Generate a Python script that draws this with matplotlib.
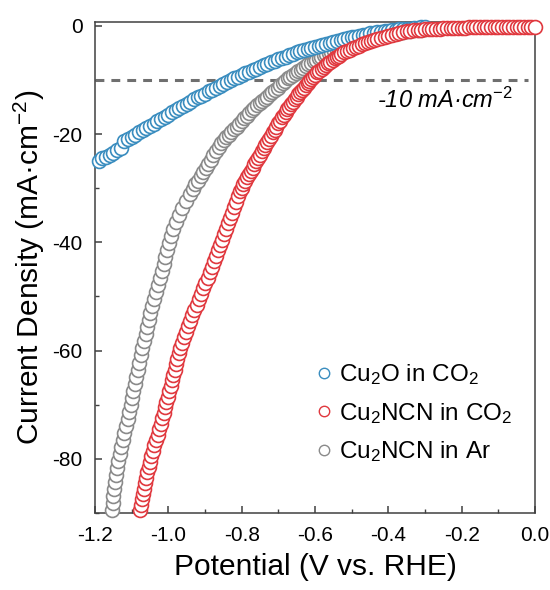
import matplotlib; matplotlib.use("agg")
import matplotlib.pyplot as plt
from matplotlib.ticker import MultipleLocator
from matplotlib.lines import Line2D

plt.rcParams['font.family'] = ['Liberation Sans', 'DejaVu Sans']
plt.rcParams['mathtext.fontset'] = 'custom'
plt.rcParams['mathtext.rm'] = 'Liberation Sans'
plt.rcParams['mathtext.it'] = 'Liberation Sans:italic'

# Cu2O in CO2
cu2o_x = [-1.19, -1.18, -1.17, -1.16, -1.15, -1.14, -1.13, -1.12, -1.11, -1.10,
          -1.09, -1.08, -1.07, -1.06, -1.05, -1.04, -1.03, -1.02, -1.01, -1.00,
          -0.99, -0.98, -0.97, -0.96, -0.95, -0.94, -0.93, -0.92, -0.91, -0.90,
          -0.89, -0.88, -0.87, -0.86, -0.85, -0.84, -0.83, -0.82, -0.81, -0.80,
          -0.79, -0.78, -0.77, -0.76, -0.75, -0.74, -0.73, -0.72, -0.71, -0.70,
          -0.69, -0.68, -0.67, -0.66, -0.65, -0.64, -0.63, -0.62, -0.61, -0.60,
          -0.59, -0.58, -0.57, -0.56, -0.55, -0.54, -0.53, -0.52, -0.51, -0.50,
          -0.49, -0.48, -0.47, -0.46, -0.45, -0.44, -0.43, -0.42, -0.41, -0.40,
          -0.39, -0.38, -0.37, -0.36, -0.35, -0.34, -0.33, -0.32, -0.31, -0.30]
cu2o_j = [-24.9, -24.5, -24.2, -23.8, -23.4, -23.0, -22.5, -21.3, -20.9, -20.5,
          -20.1, -19.7, -19.3, -18.9, -18.5, -18.1, -17.6, -17.2, -16.8, -16.4,
          -16.0, -15.6, -15.2, -14.8, -14.4, -14.0, -13.6, -13.2, -12.9, -12.5,
          -12.1, -11.8, -11.4, -11.1, -10.7, -10.4, -10.0, -9.7, -9.4, -9.1,
          -8.8, -8.5, -8.2, -7.9, -7.6, -7.3, -7.0, -6.7, -6.4, -6.2,
          -5.9, -5.7, -5.4, -5.2, -4.9, -4.7, -4.5, -4.3, -4.1, -3.9,
          -3.7, -3.5, -3.3, -3.1, -2.9, -2.8, -2.6, -2.4, -2.3, -2.1,
          -2.0, -1.8, -1.7, -1.6, -1.4, -1.3, -1.2, -1.1, -1.0, -0.9,
          -0.8, -0.7, -0.6, -0.6, -0.5, -0.5, -0.4, -0.4, -0.3, -0.3]

# Cu2NCN in CO2
ncn_co2_x = [-1.076, -1.074, -1.072, -1.069, -1.066, -1.063, -1.060, -1.057, -1.054,
             -1.050, -1.046, -1.042, -1.038, -1.033, -1.029, -1.025, -1.021, -1.017,
             -1.013, -1.008, -1.005, -1.001, -0.997, -0.994, -0.990, -0.986, -0.983,
             -0.979, -0.975, -0.971, -0.967, -0.962, -0.957, -0.952, -0.947, -0.941,
             -0.935, -0.929, -0.923, -0.917, -0.911, -0.905, -0.899, -0.893, -0.887,
             -0.881, -0.875, -0.869, -0.864, -0.858, -0.853, -0.847, -0.842, -0.836,
             -0.831, -0.826, -0.821, -0.816, -0.811, -0.805,
             -0.800, -0.795, -0.790, -0.785, -0.780, -0.775, -0.770, -0.765, -0.760,
             -0.755, -0.750, -0.745, -0.740, -0.735, -0.730, -0.725, -0.720, -0.715,
             -0.710, -0.705, -0.700, -0.695, -0.690, -0.685, -0.680, -0.675, -0.670,
             -0.665, -0.660, -0.655, -0.650, -0.645, -0.640, -0.635, -0.630, -0.625,
             -0.620, -0.615, -0.610, -0.605, -0.600, -0.594, -0.588, -0.582, -0.576,
             -0.570, -0.564, -0.558, -0.552, -0.546, -0.540, -0.534, -0.528, -0.520,
             -0.512, -0.504, -0.496, -0.488, -0.480, -0.472, -0.464, -0.456, -0.448,
             -0.440, -0.430, -0.420, -0.410, -0.400, -0.390, -0.380, -0.370, -0.360,
             -0.350, -0.340, -0.330, -0.320, -0.310, -0.300, -0.290, -0.280, -0.270,
             -0.260, -0.250, -0.240, -0.230, -0.220, -0.210, -0.200, -0.190, -0.180,
             -0.170, -0.160, -0.150, -0.140, -0.130, -0.120, -0.110, -0.100, -0.090,
             -0.080, -0.070, -0.060, -0.050, -0.040, -0.030, -0.020, -0.010, 0.000]
ncn_co2_j = [-89.5, -88.5, -87.5, -86.5, -85.5, -84.5, -83.5, -82.5, -81.5,
             -80.5, -79.5, -78.5, -77.5, -76.5, -75.5, -74.5, -73.5, -72.5,
             -71.5, -70.5, -69.5, -68.5, -67.5, -66.5, -65.5, -64.5, -63.5,
             -62.5, -61.5, -60.5, -59.5, -58.5, -57.5, -56.5, -55.5, -54.5,
             -53.5, -52.5, -51.5, -50.5, -49.5, -48.5, -47.5, -46.5, -45.5,
             -44.5, -43.5, -42.5, -41.5, -40.5, -39.5, -38.5, -37.5, -36.5,
             -35.5, -34.5, -33.5, -32.5, -31.5, -30.5,
             -29.9, -29.3, -28.7, -28.0, -27.4, -26.8, -26.2, -25.6, -25.0,
             -24.4, -23.8, -23.2, -22.6, -22.0, -21.4, -20.9, -20.3, -19.7,
             -19.2, -18.6, -18.0, -17.5, -16.9, -16.4, -15.9, -15.4, -14.9,
             -14.4, -14.0, -13.5, -13.1, -12.6, -12.2, -11.8, -11.4, -11.0,
             -10.6, -10.2, -9.8, -9.4, -9.0, -8.6, -8.3, -7.9, -7.6,
             -7.3, -6.9, -6.6, -6.3, -6.0, -5.7, -5.5, -5.2, -4.9,
             -4.6, -4.4, -4.1, -3.9, -3.7, -3.4, -3.2, -3.0, -2.8,
             -2.6, -2.4, -2.2, -2.0, -1.8, -1.6, -1.5, -1.3, -1.2,
             -1.0, -0.9, -0.8, -0.7, -0.7, -0.6, -0.6, -0.5, -0.5,
             -0.5, -0.4, -0.4, -0.4, -0.4, -0.4, -0.4, -0.4, -0.3,
             -0.3, -0.3, -0.3, -0.3, -0.3, -0.3, -0.3, -0.3, -0.3,
             -0.3, -0.3, -0.3, -0.3, -0.3, -0.3, -0.3, -0.3, -0.3]

# Cu2NCN in Ar
ncn_ar_x = [-1.154, -1.152, -1.150, -1.149, -1.146, -1.143, -1.140, -1.136, -1.132,
            -1.128, -1.124, -1.120, -1.115, -1.111, -1.107, -1.103, -1.099, -1.095,
            -1.091, -1.087, -1.083, -1.079, -1.075, -1.071, -1.067, -1.062, -1.058,
            -1.053, -1.049, -1.044, -1.038, -1.033, -1.028, -1.023, -1.018, -1.013,
            -1.008, -1.003, -0.999, -0.994, -0.986, -0.979, -0.972, -0.963, -0.952,
            -0.941, -0.933, -0.926, -0.919, -0.912, -0.905, -0.898, -0.891, -0.884,
            -0.877, -0.870, -0.863, -0.856, -0.849, -0.842, -0.835, -0.828, -0.821,
            -0.814, -0.807, -0.800, -0.793, -0.786, -0.779, -0.772, -0.765, -0.758,
            -0.751, -0.744, -0.737, -0.730, -0.723, -0.716, -0.709, -0.702, -0.695,
            -0.688, -0.681, -0.674, -0.667, -0.660, -0.653, -0.646, -0.639, -0.632,
            -0.625, -0.618, -0.611, -0.604, -0.597, -0.590, -0.583, -0.576, -0.569,
            -0.562, -0.555, -0.548, -0.541, -0.534, -0.52, -0.51, -0.50, -0.49,
            -0.48, -0.47, -0.46, -0.45, -0.44, -0.43, -0.42, -0.41, -0.40,
            -0.39, -0.38, -0.37, -0.36, -0.35, -0.34, -0.33, -0.32, -0.31, -0.30]
ncn_ar_j = [-89.5, -88.2, -86.9, -85.6, -84.3, -83.0, -81.7, -80.4, -79.1,
            -77.8, -76.5, -75.2, -73.9, -72.6, -71.3, -70.0, -68.7, -67.4,
            -66.1, -64.8, -63.5, -62.2, -60.9, -59.6, -58.3, -57.0, -55.7,
            -54.4, -53.1, -51.8, -50.5, -49.2, -47.9, -46.6, -45.3, -44.0,
            -42.7, -41.4, -40.1, -38.8, -37.5, -36.2, -34.9, -33.6, -32.3,
            -31.0, -30.1, -29.3, -28.6, -27.8, -27.0, -26.2, -25.5, -24.7,
            -23.9, -23.1, -22.3, -21.6, -21.1, -20.6, -20.1, -19.6, -19.1,
            -18.6, -18.1, -17.6, -17.1, -16.6, -16.1, -15.6, -15.2, -14.7,
            -14.3, -13.9, -13.5, -13.1, -12.6, -12.3, -11.8, -11.4, -10.9,
            -10.5, -10.1, -9.7, -9.4, -9.1, -8.7, -8.4, -8.1, -7.7,
            -7.4, -7.1, -6.8, -6.5, -6.3, -6.0, -5.7, -5.4, -5.2,
            -5.0, -4.8, -4.6, -4.4, -4.2, -3.9, -3.7, -3.5, -3.3,
            -3.0, -2.8, -2.6, -2.4, -2.2, -2.1, -1.9, -1.8, -1.6,
            -1.5, -1.4, -1.3, -1.1, -1.0, -0.9, -0.8, -0.7, -0.7, -0.6]

labels = ["Cu$_2$O in CO$_2$", "Cu$_2$NCN in CO$_2$", "Cu$_2$NCN in Ar"]
colors = ["#3a8dbf", "#e0383e", "#8a8a8a"]
ref_j = -10

fig = plt.figure(figsize=(5.5, 5.9), dpi=100)
ax = fig.add_axes([0.1727, 0.1305, 0.8, 0.833])

mk = dict(marker="o", ls="none", ms=10, mfc="white", mew=1.2, clip_on=False)
ax.plot(ncn_ar_x, ncn_ar_j, mec=colors[2], zorder=3, **mk)
ax.plot(cu2o_x, cu2o_j, mec=colors[0], zorder=4, **mk)
ax.plot(ncn_co2_x, ncn_co2_j, mec=colors[1], zorder=5, **mk)

ax.plot([-1.2, -0.02], [ref_j, ref_j], color="#6f6f6f", lw=2.2, dashes=(2.9, 2.3), zorder=2)
ax.text(-0.06, -15.2, "-10 mA·cm$^{-2}$", style="italic", fontsize=17,
        ha="right", va="baseline")

handles = [Line2D([], [], marker="o", ls="none", ms=7.5, mfc="white", mew=1.0, mec=c)
           for c in colors]
ax.legend(handles, labels, loc="upper left", bbox_to_anchor=(0.47, 0.326), frameon=False,
          fontsize=17.5, handlelength=1.0, handletextpad=0.15, labelspacing=0.55,
          borderaxespad=0)

ax.set_xlim(-1.2, 0.0)
ax.set_ylim(-90, 0.8)
ax.xaxis.set_major_locator(MultipleLocator(0.2))
ax.xaxis.set_minor_locator(MultipleLocator(0.1))
ax.yaxis.set_major_locator(MultipleLocator(20))
ax.yaxis.set_minor_locator(MultipleLocator(10))
ax.xaxis.set_major_formatter(plt.FuncFormatter(lambda v, p: f"{v:.1f}"))
ax.yaxis.set_major_formatter(plt.FuncFormatter(lambda v, p: f"{v:.0f}"))
ax.tick_params(which="both", direction="in", top=False, right=False,
               colors="#404040", labelcolor="black", labelsize=15, pad=9)
ax.tick_params(which="major", length=5, width=1.1)
ax.tick_params(which="minor", length=3, width=1.0)
for s in ax.spines.values():
    s.set_color("#404040"); s.set_linewidth(1.1)

ax.set_xlabel("Potential (V vs. RHE)", fontsize=21.5, labelpad=6)
ax.set_ylabel("Current Density (mA·cm$^{-2}$)", fontsize=21.5, labelpad=4)

fig.savefig("out.png", dpi=100)
